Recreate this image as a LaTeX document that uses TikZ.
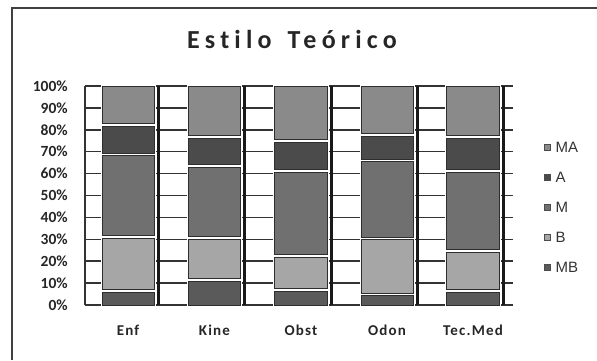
\documentclass[tikz,border=0pt]{standalone}
\usepackage{fontspec}
\setmainfont{Carlito}[Ligatures=NoCommon]
\newfontfamily\titlefont[LetterSpace=20,Ligatures=NoCommon]{Carlito}
\newfontfamily\catfont[LetterSpace=8,Ligatures=NoCommon]{Carlito}
\newfontfamily\legfont{Liberation Sans}
\usepackage{tikz}
\usetikzlibrary{positioning}

\definecolor{cMA}{HTML}{8A8A8A}
\definecolor{cA}{HTML}{4B4B4B}
\definecolor{cM}{HTML}{707070}
\definecolor{cB}{HTML}{A6A6A6}
\definecolor{cMB}{HTML}{5A5A5A}
\definecolor{segline}{HTML}{2E2E2E}

\begin{document}
\begin{tikzpicture}[x=1pt,y=-1pt,semithick]
  \tikzstyle{ylab}=[anchor=east,inner sep=0pt,font=\fontsize{15.5}{15.5}\selectfont\bfseries,text=black!85]
  \tikzstyle{cat}=[inner sep=0pt,font=\catfont\fontsize{15}{15}\selectfont\bfseries,text=black!85]
  \tikzstyle{grid}=[draw=black!80,line width=1.5pt]
  \tikzstyle{sep}=[draw=black!90,line width=3pt]
  \tikzstyle{seg}=[fill=#1,draw=segline,line width=0.8pt,preaction={draw=white,line width=3pt}]
  \tikzstyle{legbox}=[draw=black!70,line width=0.5pt,minimum size=6pt,inner sep=0pt]
  \tikzstyle{legtext}=[inner sep=0pt,font=\legfont\fontsize{15}{15}\selectfont,text=black!80]

  \useasboundingbox (0,0) rectangle (597,360);
  \draw[black!75,line width=1.2pt] (597,8) -- (12,8) -- (12,360);

  \node[font=\titlefont\fontsize{26}{26}\selectfont\bfseries,text=black!85] (title) at (292,39) {Estilo\hspace{16pt}Teórico};

  \begin{scope}[shift={(0,305)},y=2.19pt]
  % gridlines
  \draw[grid] (85,0) -- (513,0);
  \draw[grid] (85,10) -- (513,10);
  \draw[grid] (85,20) -- (513,20);
  \draw[grid] (85,30) -- (513,30);
  \draw[grid] (85,40) -- (513,40);
  \draw[grid] (85,50) -- (513,50);
  \draw[grid] (85,60) -- (513,60);
  \draw[grid] (85,70) -- (513,70);
  \draw[grid] (85,80) -- (513,80);
  \draw[grid] (85,90) -- (513,90);
  \draw[grid] (85,100) -- (513,100);
  \draw[black!80,line width=2pt] (85,0) -- (85,100);

  \node[ylab] (y0) at (68,0) {0\%};
  \node[ylab] (y10) at (68,10) {10\%};
  \node[ylab] (y20) at (68,20) {20\%};
  \node[ylab] (y30) at (68,30) {30\%};
  \node[ylab] (y40) at (68,40) {40\%};
  \node[ylab] (y50) at (68,50) {50\%};
  \node[ylab] (y60) at (68,60) {60\%};
  \node[ylab] (y70) at (68,70) {70\%};
  \node[ylab] (y80) at (68,80) {80\%};
  \node[ylab] (y90) at (68,90) {90\%};
  \node[ylab] (y100) at (68,100) {100\%};

  % Enf
  \path[seg=cMB] (102,0) rectangle (154.5,5.9);
  \path[seg=cB] (102,7.1) rectangle (154.5,30.6);
  \path[seg=cM] (102,31.8) rectangle (154.5,68.2);
  \path[seg=cA] (102,69.4) rectangle (154.5,81.6);
  \path[seg=cMA] (102,82.8) rectangle (154.5,99.6);
  % Kine
  \path[seg=cMB] (188,0) rectangle (240.5,10.8);
  \path[seg=cB] (188,12.0) rectangle (240.5,30.1);
  \path[seg=cM] (188,31.3) rectangle (240.5,63.0);
  \path[seg=cA] (188,64.2) rectangle (240.5,76.3);
  \path[seg=cMA] (188,77.5) rectangle (240.5,99.6);
  % Obst
  \path[seg=cMB] (274.5,0) rectangle (327,6.2);
  \path[seg=cB] (274.5,7.4) rectangle (327,21.7);
  \path[seg=cM] (274.5,22.9) rectangle (327,60.6);
  \path[seg=cA] (274.5,61.8) rectangle (327,74.2);
  \path[seg=cMA] (274.5,75.4) rectangle (327,99.6);
  % Odon
  \path[seg=cMB] (361,0) rectangle (413.5,4.3);
  \path[seg=cB] (361,5.5) rectangle (413.5,29.8);
  \path[seg=cM] (361,31.0) rectangle (413.5,65.5);
  \path[seg=cA] (361,66.7) rectangle (413.5,77.2);
  \path[seg=cMA] (361,78.4) rectangle (413.5,99.6);
  % Tec.Med
  \path[seg=cMB] (446.5,0) rectangle (499,5.8);
  \path[seg=cB] (446.5,7.0) rectangle (499,24.0);
  \path[seg=cM] (446.5,25.2) rectangle (499,60.6);
  \path[seg=cA] (446.5,61.8) rectangle (499,76.1);
  \path[seg=cMA] (446.5,77.3) rectangle (499,99.6);

  % separators
  \draw[sep] (158,0) -- (158,100);
  \draw[sep] (244,0) -- (244,100);
  \draw[sep] (331,0) -- (331,100);
  \draw[sep] (417,0) -- (417,100);
  \draw[sep] (503,0) -- (503,100);
  \end{scope}

  \node[cat] (enf) at (128,330) {Enf};
  \node[cat] (kine) at (214.5,330) {Kine};
  \node[cat] (obst) at (301,330) {Obst};
  \node[cat] (odon) at (387,330) {Odon};
  \node[cat] (tecmed) at (473,330) {Tec.Med};

  \node[legbox,fill=cMA] (kMA) at (547,147) {};
  \node[legbox,fill=cA] (kA) at (547,177) {};
  \node[legbox,fill=cM] (kM) at (547,207) {};
  \node[legbox,fill=cB] (kB) at (547,237) {};
  \node[legbox,fill=cMB] (kMB) at (547,267) {};
  \node[legtext,right=5pt of kMA] (tMA) {MA};
  \node[legtext,right=5pt of kA] (tA) {A};
  \node[legtext,right=5pt of kM] (tM) {M};
  \node[legtext,right=5pt of kB] (tB) {B};
  \node[legtext,right=5pt of kMB] (tMB) {MB};

\end{tikzpicture}
\end{document}
